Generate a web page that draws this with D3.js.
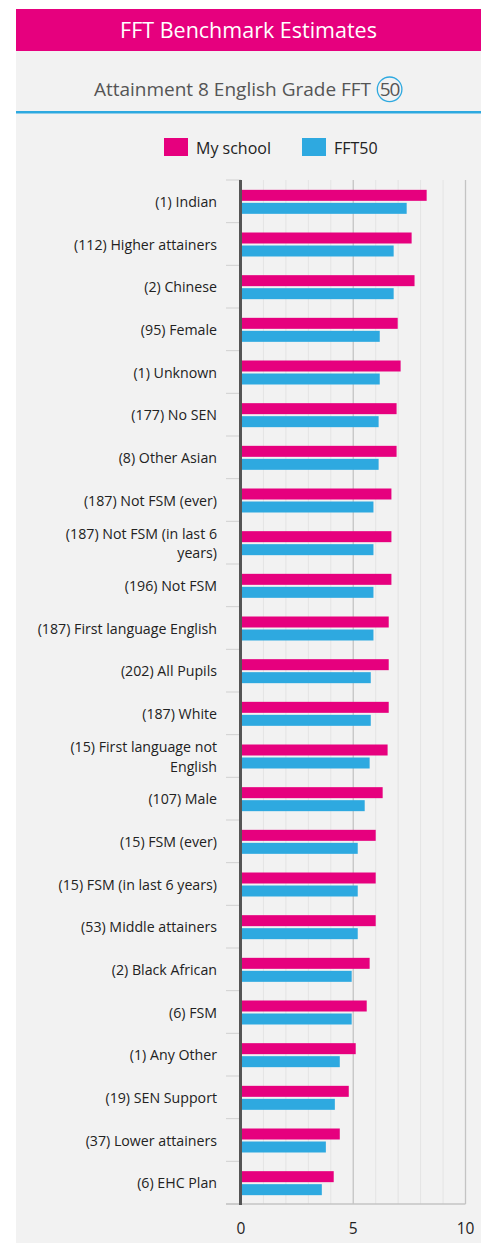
<!DOCTYPE html>
<html>
<head>
<meta charset="utf-8">
<script src="https://cdn.jsdelivr.net/npm/d3@7"></script>
<style>
  body { margin: 0; background: #fff; font-family: "Open Sans", Lato, sans-serif; }
  #chart { width: 490px; height: 1243px; }
</style>
</head>
<body>
<div id="chart"></div>
<script>
// chart data
const categories = [
  "(1) Indian", "(112) Higher attainers", "(2) Chinese", "(95) Female", "(1) Unknown",
  "(177) No SEN", "(8) Other Asian", "(187) Not FSM (ever)", "(187) Not FSM (in last 6 years)",
  "(196) Not FSM", "(187) First language English", "(202) All Pupils", "(187) White",
  "(15) First language not English", "(107) Male", "(15) FSM (ever)", "(15) FSM (in last 6 years)",
  "(53) Middle attainers", "(2) Black African", "(6) FSM", "(1) Any Other", "(19) SEN Support",
  "(37) Lower attainers", "(6) EHC Plan"
];
const mySchool = [8.27, 7.6, 7.73, 6.98, 7.11, 6.93, 6.93, 6.7, 6.7, 6.7, 6.58, 6.58, 6.58,
  6.53, 6.31, 6.0, 6.0, 6.0, 5.73, 5.6, 5.11, 4.8, 4.4, 4.13];
const fft50 = [7.38, 6.8, 6.8, 6.18, 6.18, 6.13, 6.13, 5.9, 5.9, 5.9, 5.9, 5.78, 5.78,
  5.73, 5.51, 5.2, 5.2, 5.2, 4.93, 4.93, 4.4, 4.18, 3.78, 3.6];
const seriesNames = ["My school", "FFT50"];
const xTicks = [0, 5, 10];

const pink = "#e6007e", blue = "#2ea9e0";
const W = 490, H = 1243;

const svg = d3.select("#chart").append("svg").attr("width", W).attr("height", H);

// card background + header
svg.append("rect").attr("x", 16).attr("y", 51).attr("width", 465).attr("height", H - 51).attr("fill", "#f2f2f2");
svg.append("rect").attr("x", 16).attr("y", 9).attr("width", 465).attr("height", 42).attr("fill", pink);
svg.append("text").attr("x", 248.5).attr("y", 37.5).attr("text-anchor", "middle")
  .attr("fill", "#fff").style("font-size", "21.5px").text("FFT Benchmark Estimates");

// subtitle with circled 50, centred as a group
const subSize = "19px";
const sub = svg.append("text").attr("y", 96)
  .attr("fill", "#555").style("font-size", subSize).text("Attainment 8 English Grade FFT");
const subW = sub.node().getComputedTextLength();
const subX = 248.5 - (subW + 32) / 2;
sub.attr("x", subX);
const cx = subX + subW + 18.5;
svg.append("circle").attr("cx", cx).attr("cy", 89.3).attr("r", 12.3)
  .attr("fill", "none").attr("stroke", blue).attr("stroke-width", 1.3);
svg.append("text").attr("x", cx).attr("y", 96).attr("text-anchor", "middle")
  .attr("fill", "#555").style("font-size", subSize).style("letter-spacing", "-1px").text("50");
svg.append("rect").attr("x", 16).attr("y", 111).attr("width", 465).attr("height", 2.5).attr("fill", blue);

// legend
const legend = svg.selectAll(".legend").data(seriesNames).enter().append("g")
  .attr("class", "legend")
  .attr("transform", (d, i) => `translate(${164 + i * 138},138)`);
legend.append("rect").attr("width", 24).attr("height", 18).attr("fill", (d, i) => i ? blue : pink);
legend.append("text").attr("x", 32).attr("y", 15.5).attr("fill", "#222")
  .style("font-size", "16px").text(d => d);

// plot area
const margin = { left: 241, top: 180 };
const plotW = 224.5, plotH = 1024;
const x = d3.scaleLinear().domain([0, 10]).range([0, plotW]);
const y = d3.scaleBand().domain(categories).range([0, plotH]);
const g = svg.append("g").attr("transform", `translate(${margin.left},${margin.top})`);

// grid lines
g.selectAll(".grid").data(d3.range(1, 11)).enter().append("line")
  .attr("x1", d => x(d)).attr("x2", d => x(d)).attr("y1", 0).attr("y2", plotH)
  .attr("stroke", d => d % 5 === 0 ? "#c4c4c4" : "#e4e4e4").attr("stroke-width", d => d % 5 === 0 ? 1.3 : 1);

// category boundary ticks
g.selectAll(".ctick").data(d3.range(0, categories.length + 1)).enter().append("line")
  .attr("x1", -15).attr("x2", 0)
  .attr("y1", d => d * y.step()).attr("y2", d => d * y.step())
  .attr("stroke", "#d0d0d0");

// bottom axis line
g.append("line").attr("x1", -15).attr("x2", x(10)).attr("y1", plotH).attr("y2", plotH)
  .attr("stroke", "#c4c4c4").attr("stroke-width", 1.3);

// bars
const barH = 11;
g.selectAll(".bar-school").data(mySchool).enter().append("rect")
  .attr("x", 0).attr("y", (d, i) => y(categories[i]) + y.bandwidth() / 2 - barH - 0.5)
  .attr("width", d => x(d)).attr("height", barH).attr("fill", pink);
g.selectAll(".bar-fft").data(fft50).enter().append("rect")
  .attr("x", 0).attr("y", (d, i) => y(categories[i]) + y.bandwidth() / 2 + 1.5)
  .attr("width", d => x(d)).attr("height", barH).attr("fill", blue);

// left axis line
g.append("line").attr("x1", -0.5).attr("x2", -0.5).attr("y1", 0).attr("y2", plotH + 1)
  .attr("stroke", "#555").attr("stroke-width", 3);

// category labels, wrapped onto separate text lines
const maxW = 193;
const labelSize = "14.2px";
const probe = svg.append("text").style("font-size", labelSize);
const measure = s => probe.text(s).node().getComputedTextLength();
categories.forEach(d => {
  const words = d.split(" ");
  const lines = [];
  let line = [];
  words.forEach(w => {
    line.push(w);
    if (measure(line.join(" ")) > maxW && line.length > 1) {
      line.pop();
      lines.push(line.join(" "));
      line = [w];
    }
  });
  lines.push(line.join(" "));
  const cy = y(d) + y.bandwidth() / 2;
  const lh = 19.6;
  const shift = lines.length > 1 ? 0.5 : 0;
  lines.forEach((l, k) => {
    g.append("text").attr("class", "clabel")
      .attr("text-anchor", "end").attr("fill", "#222").style("font-size", labelSize)
      .attr("x", -24)
      .attr("y", cy + 5.5 + shift + (k - (lines.length - 1) / 2) * lh).text(l);
  });
});
probe.remove();

// x tick labels
g.selectAll(".xlabel").data(xTicks).enter().append("text")
  .attr("x", d => x(d)).attr("y", plotH + 30).attr("text-anchor", "middle")
  .attr("fill", "#222").style("font-size", "15.5px").text(d => d);
</script>
</body>
</html>
